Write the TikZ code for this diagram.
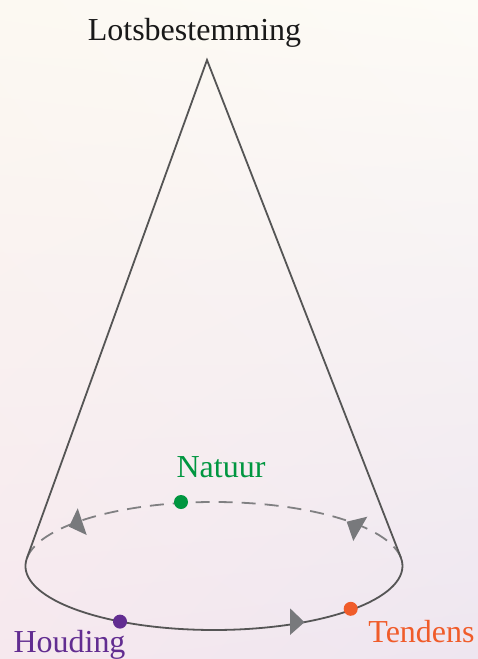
\documentclass[tikz,border=0pt]{standalone}
\usepackage{fontspec}
\setmainfont{Liberation Serif}
\usetikzlibrary{shadings}
\begin{document}
\begin{tikzpicture}[x=1pt,y=-1pt,
  coneline/.style={draw=conegray,line width=1.8pt},
  backline/.style={draw=dashgray,line width=1.8pt,dash pattern=on 14pt off 9pt},
  arrowtri/.style={fill=arrowgray,draw=none},
  dot/.style={circle,inner sep=0pt,minimum size=14pt},
  lbl/.style={anchor=base,inner sep=0pt,font=\fontsize{32}{38}\selectfont}]
\definecolor{conegray}{RGB}{85,85,85}
\definecolor{dashgray}{RGB}{128,128,130}
\definecolor{arrowgray}{RGB}{120,121,124}
\definecolor{natgreen}{RGB}{0,150,64}
\definecolor{houpurple}{RGB}{98,45,145}
\definecolor{tenorange}{RGB}{240,92,42}
\definecolor{bgtl}{RGB}{252,249,242}
\definecolor{bgtr}{RGB}{253,251,246}
\definecolor{bgbl}{RGB}{246,232,238}
\definecolor{bgbr}{RGB}{238,230,240}
\useasboundingbox (0pt,0pt) rectangle (478pt,-659pt);
\shade[upper left=bgtl,upper right=bgtr,lower left=bgbl,lower right=bgbr] (0pt,-659pt) rectangle (478pt,0pt);
% geometry
\coordinate (apex) at (207,60);
\coordinate (C) at (214,566);
\coordinate (L) at (27.0,557.9);
\coordinate (R) at (401.0,557.9);
% back (dashed) arc
\draw[backline] (L) arc[start angle=187.27,end angle=352.73,x radius=188.5,y radius=64];
% front (solid) arc
\draw[coneline] (L) arc[start angle=187.27,end angle=-7.27,x radius=188.5,y radius=64];
% cone sides
\draw[coneline,line join=miter] (L) -- (apex) -- (R);
% arrows
\fill[arrowtri] (77.7,508.3) -- (69,526.7) -- (86.7,535) -- cycle;
\fill[arrowtri] (367.3,516.7) -- (346.7,521.7) -- (353.3,541) -- cycle;
\fill[arrowtri] (290,608.3) -- (290,635) -- (304.5,622.2) -- cycle;
% dots
\node[dot,fill=natgreen] (nat) at (181,502) {};
\node[dot,fill=houpurple] (hou) at (120,621.6) {};
\node[dot,fill=tenorange] (ten) at (350.7,608.8) {};
% labels
\node[lbl,text=black!90] (lots) at (194.5,40) {Lotsbestemming};
\node[lbl,text=natgreen] (natl) at (221,477) {Natuur};
\node[lbl,text=houpurple] (houl) at (69.5,652) {Houding};
\node[lbl,text=tenorange] (tenl) at (421.5,642) {Tendens};
\end{tikzpicture}
\end{document}
